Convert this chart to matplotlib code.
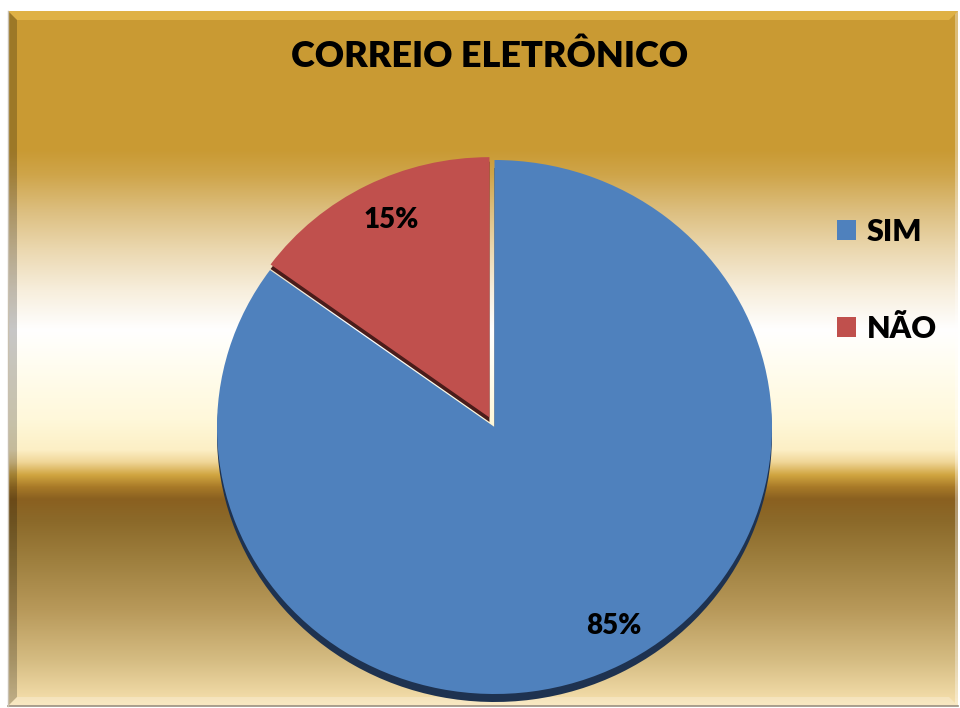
import numpy as np
import matplotlib
matplotlib.use("Agg")
import matplotlib.pyplot as plt
from matplotlib import font_manager
from matplotlib.colors import to_rgb
from matplotlib.patches import Polygon

# ---- data -------------------------------------------------------------
title = "CORREIO ELETRÔNICO"
categories = ["SIM", "NÃO"]
values = [85, 15]
explode = [0.0, 0.04]

colors = ["#4F81BD", "#C0504D"]
shadow_colors = ["#1E3250", "#4A1C1A"]


def pick_family(candidates):
    available = {f.name for f in font_manager.fontManager.ttflist}
    for fam in candidates:
        if fam in available:
            return fam
    return "DejaVu Sans"


FONT = pick_family(["Lato", "Roboto", "Open Sans", "DejaVu Sans"])
plt.rcParams["font.family"] = [FONT, "DejaVu Sans"]
WEIGHT = 800

W, H = 960, 708
fig = plt.figure(figsize=(W / 100, H / 100), dpi=100, facecolor="white")

# ---- metallic gold backdrop ------------------------------------------
bg = fig.add_axes([0, 0, 1, 1])
bg.set_xlim(0, W)
bg.set_ylim(H, 0)
bg.axis("off")

x0, x1, y0, y1 = 8, 958, 11, 706
stops = [
    (11, "#C99A33"), (150, "#C99A33"), (175, "#CFA54A"), (210, "#DCBE7E"),
    (250, "#EBD8B0"), (290, "#F7EEDC"), (330, "#FFFFFF"), (365, "#FFFDF0"),
    (420, "#FFF8DA"), (450, "#FCEFC5"), (462, "#F0D698"), (475, "#D0A540"),
    (487, "#A87A28"), (499, "#8A6020"), (522, "#8C6A2A"), (560, "#9E7F3E"),
    (610, "#B8995A"), (660, "#D5BC82"), (706, "#F8E2B0"),
]
pos = np.array([p for p, _ in stops], dtype=float)
rgb = np.array([to_rgb(c) for _, c in stops])
rows = np.arange(y0, y1) + 0.5
grad = np.stack([np.interp(rows, pos, rgb[:, k]) for k in range(3)], axis=1)
img = np.repeat(grad[:, None, :], x1 - x0, axis=1)
bg.imshow(img, extent=(x0, x1, y1, y0), aspect="auto", interpolation="bilinear", zorder=0)

b = 9  # bevel width
bg.add_patch(Polygon([(x0, y0), (x1, y0), (x1 - b, y0 + b), (x0 + b, y0 + b)],
                     closed=True, facecolor="#F2C455", alpha=0.55, edgecolor="none", zorder=1))
bg.add_patch(Polygon([(x0, y0), (x0 + b, y0 + b), (x0 + b, y1 - b), (x0, y1)],
                     closed=True, facecolor="#000000", alpha=0.22, edgecolor="none", zorder=1))
bg.add_patch(Polygon([(x0, y1), (x0 + b, y1 - b), (x1 - b, y1 - b), (x1, y1)],
                     closed=True, facecolor="#FFFFFF", alpha=0.25, edgecolor="none", zorder=1))
bg.add_patch(Polygon([(x1, y0), (x1, y1), (x1 - 3, y1 - 3), (x1 - 3, y0 + 3)],
                     closed=True, facecolor="#FFFFFF", alpha=0.35, edgecolor="none", zorder=1))
bg.plot([x0, x1], [y1, y1], color="#9A9080", lw=1.2, zorder=2)
bg.plot([x0, x0], [y0, y1], color="#C8C0B0", lw=1.0, zorder=2)

# ---- pie ---------------------------------------------------------------
cx, cy, rx, ry = 494.5, 427, 277.5, 267
pie_ax = fig.add_axes([(cx - rx) / W, (H - (cy + ry)) / H, 2 * rx / W, 2 * ry / H])

shadow_shift = 8.0 / ry
shadow, _ = pie_ax.pie(values, explode=explode, colors=shadow_colors, startangle=90,
                       counterclock=False, center=(0, -shadow_shift), radius=1.0,
                       frame=True)
wedges, _, autotexts = pie_ax.pie(values, explode=explode, colors=colors, startangle=90,
                                  counterclock=False, radius=1.0, autopct="%1.0f%%",
                                  pctdistance=0.85, frame=True,
                                  textprops=dict(fontsize=20, fontweight=WEIGHT, color="black"))
pie_ax.set_aspect("auto")
pie_ax.set_xlim(-1, 1)
pie_ax.set_ylim(-1, 1)
pie_ax.axis("off")
pie_ax.patch.set_alpha(0)
for i, (s, w) in enumerate(zip(shadow, wedges)):
    s.set_zorder(1 + 2 * i)
    w.set_zorder(2 + 2 * i)
    w.set_edgecolor("none")
    s.set_edgecolor("none")

# the detached slice is drawn a touch smaller, with a thinner drop shadow
wedges[1].set_radius(0.975)
shadow[1].set_radius(0.975)
sx, sy = shadow[1].center
shadow[1].set_center((sx, sy + 3.5 / ry))

# percentage labels sit slightly off the wedge bisectors
label_shift_deg = [3.0, -1.5]
label_radius = [0.86, 0.82]
for t, w, d, r in zip(autotexts, wedges, label_shift_deg, label_radius):
    t.set_zorder(10)
    ang = np.deg2rad((w.theta1 + w.theta2) / 2 + d)
    wx, wy = w.center
    t.set_position((wx + r * np.cos(ang), wy + r * np.sin(ang)))

# ---- title & legend ----------------------------------------------------
fig.text(490 / W, 1 - 56 / H, title, ha="center", va="center",
         fontsize=26, fontweight=WEIGHT, color="black")

leg = fig.legend(wedges, categories, loc="upper left",
                 bbox_to_anchor=(837 / W, 1 - 218 / H), frameon=False,
                 borderpad=0, borderaxespad=0,
                 prop=dict(size=22, weight=WEIGHT), handlelength=0.62, handleheight=0.62,
                 handletextpad=0.35, labelspacing=2.25)

fig.savefig("out.png", dpi=100, facecolor="white")
